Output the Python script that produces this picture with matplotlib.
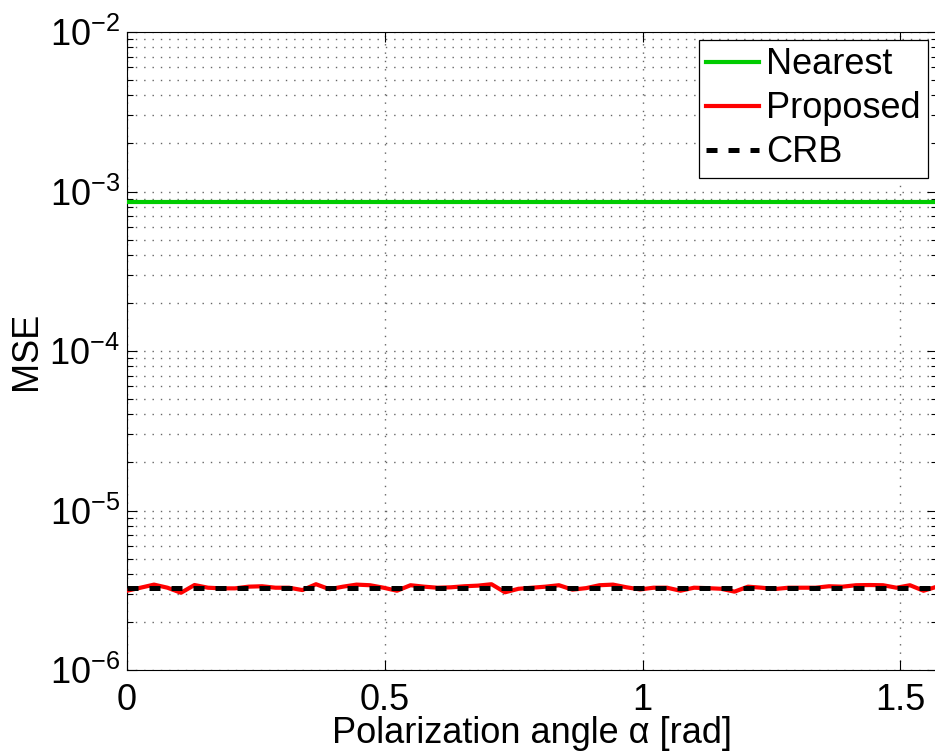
import numpy as np
import matplotlib
matplotlib.use("Agg")
import matplotlib.pyplot as plt
from matplotlib.ticker import LogLocator, NullFormatter, FixedLocator

plt.rcParams['font.family'] = ['Liberation Sans', 'DejaVu Sans']
plt.rcParams['mathtext.fontset'] = 'custom'
plt.rcParams['mathtext.rm'] = 'Liberation Sans'
plt.rcParams['mathtext.it'] = 'Liberation Sans:italic'
plt.rcParams['mathtext.bf'] = 'Liberation Sans:bold'

# ---- data ----
n_points = 61
alpha = np.linspace(0, np.pi / 2, n_points)
nearest_level = 8.63e-4
crb_level = 3.28e-6
proposed = [3.14, 3.28, 3.43, 3.28, 3.05, 3.41, 3.28, 3.25, 3.25, 3.33,
            3.35, 3.28, 3.28, 3.17, 3.45, 3.21, 3.33, 3.43, 3.40, 3.28,
            3.14, 3.40, 3.33, 3.28, 3.30, 3.35, 3.38, 3.45, 3.07, 3.23,
            3.28, 3.33, 3.40, 3.19, 3.26, 3.40, 3.43, 3.30, 3.20, 3.28,
            3.28, 3.14, 3.28, 3.26, 3.23, 3.10, 3.33, 3.28, 3.22, 3.28,
            3.28, 3.28, 3.35, 3.33, 3.40, 3.41, 3.40, 3.28, 3.40, 3.14,
            3.33]
proposed = np.array(proposed) * 1e-6
nearest = np.full(n_points, nearest_level)
crb = np.full(n_points, crb_level)

labels = ['Nearest', 'Proposed', 'CRB']
xticks = [0, 0.5, 1, 1.5]
xtick_labels = ['0', '0.5', '1', '1.5']

# ---- figure ----
W, H = 935, 751
FS = 26
fig = plt.figure(figsize=(W / 100, H / 100), dpi=100)
ax = fig.add_axes([127 / W, (H - 670) / H, (937 - 127) / W, 638 / H])

ax.plot(alpha, nearest, color='#00cc00', lw=3.0, label=labels[0], zorder=3)
ax.plot(alpha, proposed, color='#ff0000', lw=3.0, label=labels[1], zorder=4)
ax.plot(alpha, crb, color='black', lw=3.6, dashes=(2.2, 2.2),
        dash_capstyle='butt', label=labels[2], zorder=5)

ax.set_yscale('log')
ax.set_ylim(1e-6, 1e-2)
ax.set_xlim(0, np.pi / 2)
ax.xaxis.set_major_locator(FixedLocator(xticks))
ax.set_xticklabels(xtick_labels)
ax.yaxis.set_major_locator(LogLocator(base=10, numticks=10))
ax.yaxis.set_minor_locator(LogLocator(base=10, subs=np.arange(2, 10), numticks=20))
ax.yaxis.set_minor_formatter(NullFormatter())

grid_kw = dict(color='0.4', linestyle=(0, (1, 5)), linewidth=1.0)
ax.grid(True, which='major', axis='both', **grid_kw)
ax.grid(True, which='minor', axis='y', **grid_kw)
ax.set_axisbelow(True)

ax.tick_params(which='both', direction='in', top=True, right=True,
               labelsize=FS, width=0.8)
ax.tick_params(which='major', length=7)
ax.tick_params(which='minor', length=4)
ax.tick_params(axis='x', pad=9)
ax.tick_params(axis='y', pad=5)
for s in ax.spines.values():
    s.set_linewidth(0.8)

ax.set_xlabel('Polarization angle α [rad]', fontsize=FS, labelpad=-1)
ax.set_ylabel('MSE', fontsize=FS, labelpad=4)

leg = ax.legend(loc='upper right', bbox_to_anchor=((928 - 127) / 810, 1 - 8 / 638),
                borderaxespad=0, fontsize=FS, handlelength=1.47,
                handletextpad=0.2, labelspacing=0.25, borderpad=0.2,
                fancybox=False, framealpha=1, edgecolor='black')
leg.get_frame().set_linewidth(0.9)

fig.savefig('out.png', dpi=100)
